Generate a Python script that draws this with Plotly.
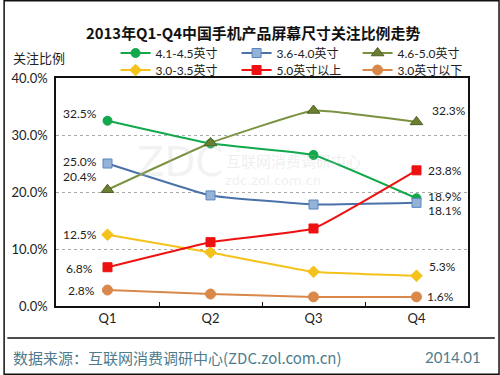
import plotly.graph_objects as go

categories = ["Q1", "Q2", "Q3", "Q4"]
s_41_45 = [32.5, 28.5, 26.5, 18.9]
s_36_40 = [25.0, 19.4, 17.8, 18.1]
s_46_50 = [20.4, 28.6, 34.3, 32.3]
s_30_35 = [12.5, 9.4, 6.0, 5.3]
s_50_up = [6.8, 11.2, 13.6, 23.8]
s_30_dn = [2.8, 2.1, 1.6, 1.6]
y_ticks = [0, 10, 20, 30, 40]

series = [
    ("4.1-4.5英寸", s_41_45, "#12A84C", "#12A84C", "#12A84C", "circle", 9, "legend"),
    ("3.6-4.0英寸", s_36_40, "#4A72A8", "#95B3D7", "#5B84C0", "square", 9, "legend"),
    ("4.6-5.0英寸", s_46_50, "#7A9140", "#6B7F33", "#4F6124", "triangle-up", 11, "legend"),
    ("3.0-3.5英寸", s_30_35, "#F5C21B", "#F5C21B", "#F5C21B", "diamond", 9, "legend2"),
    ("5.0英寸以上", s_50_up, "#EE1111", "#EE1111", "#EE1111", "square", 9, "legend2"),
    ("3.0英寸以下", s_30_dn, "#D9884A", "#D9884A", "#D9884A", "circle", 10, "legend2"),
]

FONT = "Lato, 'Noto Sans CJK SC', sans-serif"
CJK = "'Noto Sans CJK SC', sans-serif"
fig = go.Figure()
for name, vals, lc, mc, mlc, sym, ms, lg in series:
    fig.add_trace(go.Scatter(
        x=categories, y=vals, name=name, mode="lines+markers", legend=lg,
        line=dict(color=lc, width=2, shape="spline", smoothing=0.3),
        marker=dict(symbol=sym, size=ms, color=mc, line=dict(color=mlc, width=1)),
    ))

# data label offsets (xshift, yshift) for first and last points
offsets = {
    "4.1-4.5英寸": ((-28, 7), (28, 2)),
    "3.6-4.0英寸": ((-28, 2), (28, -8)),
    "4.6-5.0英寸": ((-28, 13), (32, 11)),
    "3.0-3.5英寸": ((-28, 0), (26, 9)),
    "5.0英寸以上": ((-28, -1), (28, 0)),
    "3.0英寸以下": ((-26, 0), (24, 0)),
}
for name, vals, *_ in series:
    (fx, fy), (lx, ly) = offsets[name]
    fig.add_annotation(x=categories[0], y=vals[0], text=f"{vals[0]:.1f}%", showarrow=False, borderpad=0,
                       xshift=fx, yshift=fy, font=dict(size=12, color="#222", family=FONT))
    fig.add_annotation(x=categories[-1], y=vals[-1], text=f"{vals[-1]:.1f}%", showarrow=False, borderpad=0,
                       xshift=lx, yshift=ly, font=dict(size=12, color="#222", family=FONT))

W, H = 500, 375
L, R, T, B = 53, 32, 78, 69
pw, ph = W - L - R, H - T - B
def px(x): return (x - L) / pw
def py(y): return (H - B - y) / ph

def text_at(x, y, text, size, color="#222", family=CJK, xanchor="center"):
    fig.add_annotation(x=px(x), y=py(y), xref="paper", yref="paper", text=text, showarrow=False,
                       xanchor=xanchor, yanchor="middle", font=dict(size=size, color=color, family=family))

# watermark
text_at(178, 162, "ZDC", 40, "rgba(190,190,190,0.2)", "DejaVu Sans")
text_at(292, 160, "互联网消费调研中心", 15, "rgba(190,190,190,0.25)")
text_at(272, 180, "zdc.zol.com.cn", 13, "rgba(190,190,190,0.25)", "DejaVu Sans")

# title and texts
text_at(251, 32, "<b>2013年Q1-Q4中国手机产品屏幕尺寸关注比例走势</b>", 14.9, "#111")
text_at(8, 57, "关注比例", 13, xanchor="left")
text_at(8, 357, "数据来源：互联网消费调研中心(ZDC.zol.com.cn)", 15, "#4E7C8E", xanchor="left")
text_at(483, 357, "2014.01", 15, "#4E7C8E", FONT, xanchor="right")

fig.add_shape(type="line", xref="paper", yref="paper", x0=px(4), x1=px(495), y0=py(338), y1=py(338),
              line=dict(color="#111", width=1.5))
fig.add_shape(type="rect", xref="paper", yref="paper", x0=px(0.75), x1=px(499.25), y0=py(0.75), y1=py(374.25),
              line=dict(color="#111", width=1.5))

leg_common = dict(orientation="h", xanchor="left", yanchor="middle",
                  entrywidth=76, entrywidthmode="pixels",
                  font=dict(size=12, family="Lato, 'Noto Sans CJK SC'"),
                  itemwidth=30, bgcolor="rgba(0,0,0,0)")
fig.update_layout(
    width=W, height=H, margin=dict(l=L, r=R, t=T, b=B),
    paper_bgcolor="white", plot_bgcolor="white",
    font=dict(family=FONT, size=12, color="#222"),
    legend=dict(x=px(113), y=py(53), **leg_common),
    legend2=dict(x=px(113), y=py(70), **leg_common),
    xaxis=dict(showgrid=False, showline=True, linecolor="#111", linewidth=1.5, mirror=True,
               ticks="inside", tickson="boundaries", ticklen=4, tickcolor="#111",
               range=[-0.5, 3.5], tickfont=dict(size=13)),
    yaxis=dict(range=[0, 40], tickvals=y_ticks, ticktext=[f"{v:.1f}%" for v in y_ticks],
               showgrid=True, gridcolor="#AAAAAA", griddash="dot", gridwidth=1,
               showline=True, linecolor="#111", linewidth=1.5, mirror=True, ticks="",
               zeroline=False, tickfont=dict(size=13), ticklabelstandoff=4),
)
fig.write_html("out.html", config={"displayModeBar": False},
               post_script="document.body.style.margin='0';document.body.style.padding='0';")
